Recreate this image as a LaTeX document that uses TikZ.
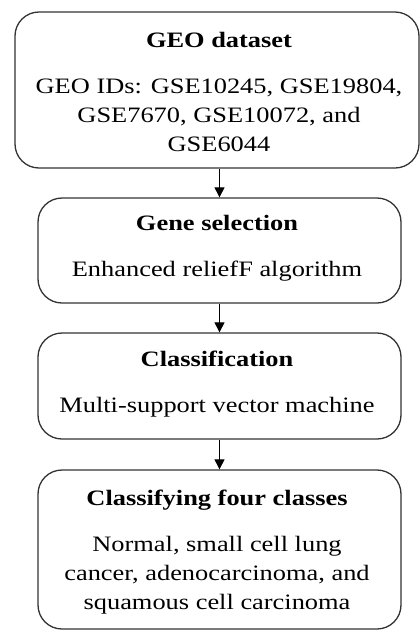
\documentclass[tikz,border=0pt]{standalone}
\usepackage{fontspec}
\setmainfont{Liberation Serif}[FakeStretch=1.2]
\usetikzlibrary{arrows.meta}
\definecolor{edge}{HTML}{333333}
\begin{document}
\begin{tikzpicture}[x=1pt,y=-1pt,
  stage/.style={draw=edge, line width=1.3pt, rounded corners=24pt,
    rectangle, inner sep=0pt, fill=none},
  txt/.style={anchor=base, inner sep=0pt, text=black,
    font=\fontsize{22}{28}\selectfont},
  head/.style={txt, font=\fontsize{22}{28}\selectfont\bfseries},
  flow/.style={draw=black, line width=1pt,
    -{Triangle[width=10pt,length=10pt]}}]
\useasboundingbox (0,0) rectangle (420,630);

% stage boxes
\node[stage, minimum width=404pt, minimum height=156pt] (b1) at (217,90) {};
\node[stage, minimum width=363pt, minimum height=105pt] (b2) at (219.5,250.5) {};
\node[stage, minimum width=363pt, minimum height=106pt] (b3) at (219.5,386) {};
\node[stage, minimum width=363pt, minimum height=159pt] (b4) at (219.5,549.5) {};

% GEO dataset
\node[head] (t1) at (219,47.3) {GEO dataset};
\node[txt] (t1a) at (219,93.5) {GEO IDs: GSE10245, GSE19804,};
\node[txt] (t1b) at (219,122) {GSE7670, GSE10072, and};
\node[txt] (t1c) at (219,151) {GSE6044};

% gene selection
\node[head] (t2) at (217,230.7) {Gene selection};
\node[txt] (t2a) at (217,276.7) {Enhanced reliefF algorithm};

% classification
\node[head] (t3) at (217,366) {Classification};
\node[txt] (t3a) at (217,412) {Multi-support vector machine};

% output classes
\node[head] (t4) at (217,505) {Classifying four classes};
\node[txt] (t4a) at (217,551.7) {Normal, small cell lung};
\node[txt] (t4b) at (217,580.3) {cancer, adenocarcinoma, and};
\node[txt] (t4c) at (217,609) {squamous cell carcinoma};

% connectors
\draw[flow] (b1.south -| b2.north) -- (b2.north);
\draw[flow] (b2.south) -- (b3.north);
\draw[flow] (b3.south) -- (b4.north);
\end{tikzpicture}
\end{document}
